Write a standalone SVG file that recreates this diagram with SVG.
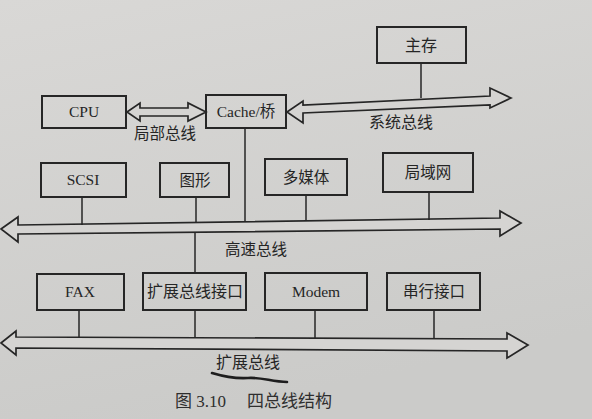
<svg xmlns="http://www.w3.org/2000/svg" width="592" height="419" viewBox="0 0 592 419">
<defs>
<linearGradient id="bg" x1="0" y1="0" x2="0.3" y2="1">
<stop offset="0" stop-color="#d9d8d6"/>
<stop offset="1" stop-color="#cbcbc9"/>
</linearGradient>
</defs>
<style>
.box{fill:none;stroke:#262626;stroke-width:2}
.ln{fill:none;stroke:#262626;stroke-width:1.5}
.bus{fill:#d5d4d2;stroke:#262626;stroke-width:1.7;stroke-linejoin:miter}
.t{font-family:"Liberation Serif","Noto Sans CJK SC",serif;font-size:15.5px;fill:#252525;text-anchor:middle}
.c{font-family:"Noto Sans CJK SC",sans-serif;font-size:15.5px;fill:#252525;text-anchor:middle}
.cap{font-family:"Liberation Serif","Noto Sans CJK SC",serif;font-size:17px;fill:#2e2e2e}
</style>
<rect width="592" height="419" fill="url(#bg)"/>

<g id="connectors">
<polygon class="bus" points="127,112 140,103 140,108 188,108 188,103 206,112 188,121 188,116 140,116 140,121"/>
<polygon class="bus" points="287,112 303,101 303,105 490,96 490,88 511,98 490,108 490,105 303,113 303,123"/>
<polygon class="bus" points="1,229 18,217 18,225 500,218 500,211 521,223 500,236 500,229 18,234 18,242"/>
<polygon class="bus" points="1,343 16,331 16,337 507,339 507,333 528,345 507,358 507,351 16,348 16,355"/>
<line class="ln" x1="421" y1="63" x2="421" y2="98"/>
<line class="ln" x1="245" y1="128" x2="245" y2="222"/>
<line class="ln" x1="82" y1="197" x2="82" y2="225"/>
<line class="ln" x1="196" y1="197" x2="196" y2="223"/>
<line class="ln" x1="306" y1="195" x2="306" y2="221"/>
<line class="ln" x1="429" y1="192" x2="429" y2="220"/>
<line class="ln" x1="195" y1="232" x2="195" y2="273"/>
<line class="ln" x1="79" y1="310" x2="79" y2="337"/>
<line class="ln" x1="195" y1="310" x2="195" y2="338"/>
<line class="ln" x1="315" y1="310" x2="315" y2="338"/>
<line class="ln" x1="434" y1="310" x2="434" y2="339"/>
<text class="c" x="165" y="139">局部总线</text>
<text class="c" x="401" y="128" style="font-size:16px">系统总线</text>
<text class="c" x="256" y="255">高速总线</text>
<text class="c" x="248" y="368" style="font-size:16px">扩展总线</text>
</g>

<g id="n-mem"><rect class="box" x="377" y="27" width="89" height="36"/><text class="c" x="421" y="51" style="font-size:16px">主存</text></g>
<g id="n-cpu"><rect class="box" x="42" y="96" width="84" height="32"/><text class="t" x="84" y="117">CPU</text></g>
<g id="n-cache"><rect class="box" x="206" y="95" width="80" height="33"/><text class="t" x="246" y="117">Cache/桥</text></g>
<g id="n-scsi"><rect class="box" x="41" y="163" width="85" height="34"/><text class="t" x="83" y="185">SCSI</text></g>
<g id="n-gfx"><rect class="box" x="160" y="163" width="69" height="34"/><text class="c" x="195" y="186">图形</text></g>
<g id="n-mm"><rect class="box" x="265" y="159" width="82" height="36"/><text class="c" x="306" y="183">多媒体</text></g>
<g id="n-lan"><rect class="box" x="383" y="153" width="90" height="39"/><text class="c" x="428" y="178">局域网</text></g>
<g id="n-fax"><rect class="box" x="37" y="274" width="87" height="36"/><text class="t" x="80" y="297">FAX</text></g>
<g id="n-ebi"><rect class="box" x="143" y="273" width="103" height="37"/><text class="c" x="195" y="297" style="font-size:16px">扩展总线接口</text></g>
<g id="n-modem"><rect class="box" x="265" y="273" width="102" height="37"/><text class="t" x="316" y="297">Modem</text></g>
<g id="n-serial"><rect class="box" x="387" y="273" width="93" height="37"/><text class="c" x="434" y="297">串行接口</text></g>

<path d="M212,373 C222,376 233,379 248,378 C262,377 272,382 287,382" fill="none" stroke="#1e1e1e" stroke-width="2.6" stroke-linecap="round"/>
<text class="cap" x="175" y="407">图 3.10</text>
<text class="cap" x="247" y="407" style="font-family:'Noto Sans CJK SC',sans-serif;font-size:17px">四总线结构</text>
</svg>
